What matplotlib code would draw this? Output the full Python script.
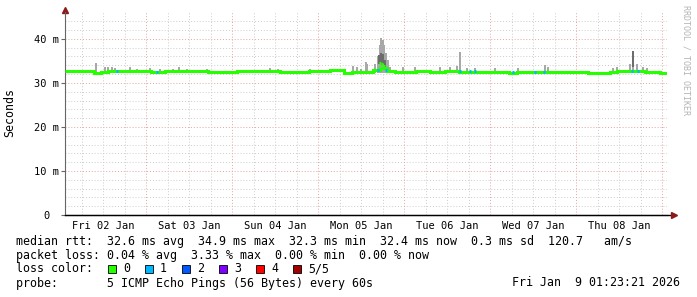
import matplotlib
matplotlib.use("Agg")
import matplotlib.pyplot as plt
import numpy as np
from matplotlib.patches import Rectangle

plt.rcParams["font.family"] = "DejaVu Sans Mono"

# tempo em horas desde Fri 02 Jan 00:00
inicio = 1.39
fim = 169.39

# mediana (ms), blocos de 2 horas
mediana = [
    32.7, 32.7, 32.7, 32.7, 32.2, 32.5, 32.6, 32.6, 32.6, 32.6, 32.6, 32.6,
    32.4, 32.4, 32.6, 32.6, 32.7, 32.7, 32.7, 32.7, 32.5, 32.4, 32.4, 32.4,
    32.6, 32.6, 32.6, 32.8, 32.8, 32.8, 32.5, 32.5, 32.5, 32.5, 32.6, 32.6,
    32.8, 32.9, 32.9, 32.3, 32.5, 32.5, 32.5, 32.9, 33.3, 32.8, 32.5, 32.5,
    32.5, 32.6, 32.6, 32.5, 32.5, 32.6, 32.6, 32.5, 32.5, 32.5, 32.5, 32.5,
    32.4, 32.4, 32.3, 32.4, 32.4, 32.5, 32.5, 32.4, 32.4, 32.4, 32.4, 32.5,
    32.4, 32.3, 32.2, 32.2, 32.5, 32.6, 32.6, 32.6, 32.7, 32.5, 32.4, 32.3,
]

# mediana mais alta no evento de segunda (trecho curto)
evento_h = [89.4, 89.9, 90.4]
evento_ms = [34.6, 34.2, 33.8]

# fumaça (smoke) - picos do ping mais lento
pico_h = [10.04, 12.55, 13.39, 14.5, 15.34, 19.53, 21.48, 25.11, 27.9, 29.86,
          31.53, 33.2, 35.44, 41.02, 58.6, 60.83, 69.77, 81.77, 82.88, 84.0,
          85.4, 85.68, 87.91, 88.75, 89.3, 89.58, 89.86, 90.14, 90.42, 90.98,
          91.54, 92.1, 95.72, 99.07, 106.05, 108.84, 110.79, 111.63, 113.58,
          115.82, 121.4, 127.8, 135.35, 136.2, 154.3, 155.45, 159.1, 159.9,
          161.0, 162.7, 163.8]
pico_ms = [34.6, 33.6, 33.5, 33.6, 33.3, 33.5, 33.2, 33.4, 33.2, 33.0,
           33.1, 33.6, 33.2, 33.1, 33.3, 33.2, 33.1, 33.9, 33.5, 33.1,
           34.7, 34.4, 34.4, 36.0, 38.5, 40.3, 38.4, 39.8, 38.6, 36.8,
           35.2, 33.6, 33.6, 33.5, 33.7, 33.5, 33.9, 37.1, 33.3,
           33.3, 33.3, 33.3, 34.0, 33.6, 33.3, 33.6, 34.4, 37.3,
           34.4, 33.7, 33.4]

# parte escura da fumaça
escuro_h = [88.9, 89.6, 90.2, 90.8, 159.9]
escuro_min = [34.3, 34.0, 34.3, 33.5, 33.5]
escuro_max = [36.3, 36.8, 36.5, 35.3, 37.3]

# perda de 1 pacote (cor azul)
perda_h = [15.9, 27.07, 88.75, 90.98, 111.63, 114.4, 115.8, 126.4, 132.6, 135.1, 159.6, 161.3]
perda_ms = [32.6, 32.5, 33.0, 33.0, 32.8, 32.6, 32.6, 32.4, 32.4, 32.4, 32.8, 32.6]

dias = ["Fri 02 Jan", "Sat 03 Jan", "Sun 04 Jan", "Mon 05 Jan",
        "Tue 06 Jan", "Wed 07 Jan", "Thu 08 Jan"]
meio_dia = [12, 36, 60, 84, 108, 132, 156]
meia_noite = [24, 48, 72, 96, 120, 144, 168]

cores_perda = ["#26ff00", "#00b8ff", "#0059ff", "#7e00ff", "#ff0000", "#a10000"]
rotulos_perda = ["0", "1", "2", "3", "4", "5/5"]

W, H = 697, 297
fig = plt.figure(figsize=(W / 100, H / 100), dpi=100)
ax = fig.add_axes([65 / W, 82 / H, 602 / W, 203 / H])

ax.set_xlim(inicio, fim)
ax.set_ylim(0, 46.1)

# grade
pontilhado = (0, (1, 2))
for y in np.arange(2, 46, 2):
    if y % 10:
        ax.axhline(y, color="#cccccc", lw=0.7, ls=pontilhado, zorder=0)
for y in [10, 20, 30, 40]:
    ax.axhline(y, color="#e6a3a3", lw=0.7, ls=pontilhado, zorder=0)
for x in np.arange(6, 169, 6):
    if x % 24:
        ax.axvline(x, color="#cccccc", lw=0.7, ls=pontilhado, zorder=0)
for x in meia_noite:
    ax.axvline(x, color="#e6a3a3", lw=0.7, ls=pontilhado, zorder=0)

# fumaça
pico_ms = np.array(pico_ms)
ax.bar(pico_h, pico_ms - 32.2, bottom=32.2, width=0.5, color="#a8a8a8", zorder=2)
ax.bar(escuro_h, np.array(escuro_max) - np.array(escuro_min), bottom=escuro_min,
       width=0.6, color="#6c6c6c", zorder=3)

# mediana
bordas = inicio + 2 * np.arange(len(mediana) + 1)
ax.stairs(mediana, bordas, baseline=None, color=cores_perda[0], lw=2.2, zorder=4)
for h, v in zip(evento_h, evento_ms):
    ax.plot([h - 0.28, h + 0.28], [v, v], color=cores_perda[0], lw=2.2,
            solid_capstyle="butt", zorder=5)
for h, v in zip(perda_h, perda_ms):
    ax.plot([h - 0.3, h + 0.3], [v, v], color=cores_perda[1], lw=2.2,
            solid_capstyle="butt", zorder=5)

# eixos
for lado in ["top", "right"]:
    ax.spines[lado].set_visible(False)
ax.spines["left"].set_color("#666666")
ax.spines["bottom"].set_color("black")
ax.plot([0, 1.012], [0, 0], transform=ax.transAxes, color="black", lw=1, clip_on=False)
ax.plot([1.012], [0], marker=">", ms=4, color="#8b1a1a", transform=ax.transAxes, clip_on=False)
ax.plot([0], [1.01], marker="^", ms=4, color="#8b1a1a", transform=ax.transAxes, clip_on=False)

ax.set_yticks([0, 10, 20, 30, 40], labels=["0", "10 m", "20 m", "30 m", "40 m"])
ax.tick_params(axis="y", length=3, width=0.8, color="#666666", pad=10.5, labelsize=7.5)
for t in ax.get_yticklabels():
    t.set_horizontalalignment("center")
ax.set_xticks(meio_dia, labels=dias)
ax.tick_params(axis="x", length=0, pad=4, labelsize=7.5)


def px(x, y):
    return x / W, 1 - y / H


fig.text(*px(10, 113), "Seconds", rotation=90, ha="center", va="center", fontsize=8.4)
fig.text(*px(686, 5), "RRDTOOL / TOBI OETIKER", rotation=270, ha="center", va="top",
         fontsize=6, color="#b4b4b4")

fs = 8.4
fig.text(*px(16, 242), "median rtt:  32.6 ms avg  34.9 ms max  32.3 ms min  32.4 ms now  0.3 ms sd  120.7   am/s",
         va="center", fontsize=fs)
fig.text(*px(16, 255), "packet loss: 0.04 % avg  3.33 % max  0.00 % min  0.00 % now",
         va="center", fontsize=fs)
fig.text(*px(16, 269), "loss color:", va="center", fontsize=fs)
for i, (c, r) in enumerate(zip(cores_perda, rotulos_perda)):
    x0 = 108 + i * 37
    fig.add_artist(Rectangle(px(x0, 273), 8 / W, 8 / H, transform=fig.transFigure,
                             facecolor=c, edgecolor="black", lw=0.6))
    fig.text(*px(x0 + 15, 269), r, va="center", fontsize=fs)
fig.text(*px(16, 283), "probe:       5 ICMP Echo Pings (56 Bytes) every 60s",
         va="center", fontsize=fs)
fig.text(*px(680, 283), "Fri Jan  9 01:23:21 2026", ha="right", va="center", fontsize=fs)

fig.savefig("out.png", dpi=100, facecolor="white")
